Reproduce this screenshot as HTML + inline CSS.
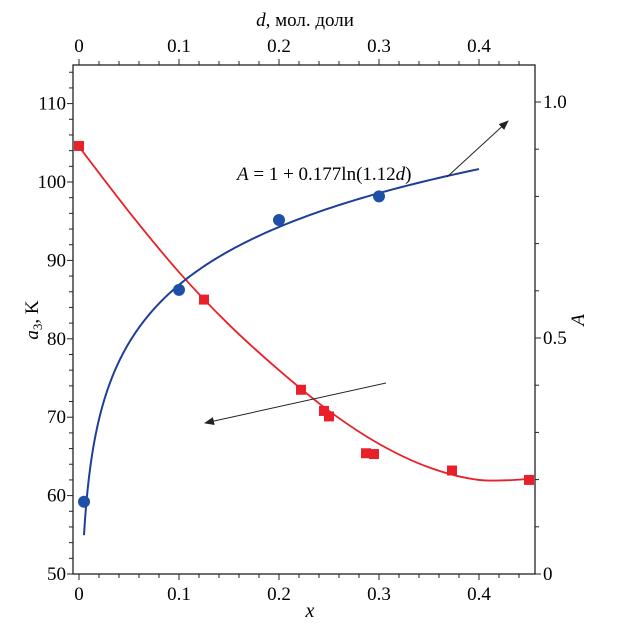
<!DOCTYPE html>
<html><head><meta charset="utf-8"><style>
body{margin:0;background:#fff}
svg{display:block;font-family:"Liberation Serif",serif}
</style></head><body>
<svg id="chart" width="629" height="640" viewBox="0 0 629 640" xmlns="http://www.w3.org/2000/svg">
<defs><marker id="ah" markerWidth="10" markerHeight="8" refX="9" refY="4" orient="auto" markerUnits="userSpaceOnUse"><path d="M0,0 L10,4 L0,8 Z" fill="#222"/></marker></defs>
<g id="axes"></g>
<g id="series"></g>
<text x="237" y="180" font-size="19"><tspan font-style="italic">A</tspan> = 1 + 0.177ln(1.12<tspan font-style="italic">d</tspan>)</text>
<line x1="447" y1="177" x2="508" y2="121" stroke="#222" stroke-width="1" marker-end="url(#ah)"/>
<line x1="386" y1="383" x2="205" y2="423" stroke="#222" stroke-width="1" marker-end="url(#ah)"/>
<text x="305" y="26" font-size="19" text-anchor="middle"><tspan font-style="italic">d</tspan>, мол. доли</text>
<text x="310" y="617" font-size="20" font-style="italic" text-anchor="middle">x</text>
<text transform="translate(38,320) rotate(-90)" font-size="19" text-anchor="middle"><tspan font-style="italic">a</tspan><tspan font-size="13" dy="4">3</tspan><tspan dy="-4">, K</tspan></text>
<text transform="translate(584,320) rotate(-90)" font-size="19" font-style="italic" text-anchor="middle">A</text>
</svg>
<script>
const xTicks=[0,0.1,0.2,0.3,0.4];
const xTickLabels=["0","0.1","0.2","0.3","0.4"];
const yTicks=[50,60,70,80,90,100,110];
const aTicks=[0,0.5,1.0];
const aTickLabels=["0","0.5","1.0"];
const blueX=[0.005,0.1,0.2,0.3];
const blueA=[0.153,0.602,0.75,0.80];
const fitCoefA=1, fitCoefB=0.177, fitCoefC=1.12;
const fitRange=[0.005,0.4];
const redX=[0,0.125,0.222,0.245,0.25,0.287,0.295,0.373,0.45];
const redA3=[104.6,85,73.5,70.8,70.1,65.4,65.3,63.2,62];
const redCurveX=[0,0.05,0.1,0.15,0.2,0.25,0.3,0.35,0.4,0.45];
const redCurveY=[104.5,96.2,88.5,81.8,76,70.8,66.6,63.6,62.0,62.1];

const L=73,R=535,T=65,B=574;
const sx=v=>79+v*1000;
const sy=v=>B-(v-50)*7.84;
const sa=v=>B-v*472;
const NS='http://www.w3.org/2000/svg';
const ax=document.getElementById('axes'), se=document.getElementById('series');
function mk(tag,attrs,parent){const e=document.createElementNS(NS,tag);for(const k in attrs)e.setAttribute(k,attrs[k]);parent.appendChild(e);return e;}
const frame=mk('rect',{x:L,y:T,width:R-L,height:B-T,fill:'none',stroke:'#222','stroke-width':1.3},ax);


for(let v=0;v<=0.45001;v+=0.02){const x=sx(v);const big=Math.abs(v*10-Math.round(v*10))<1e-6;const len=big?6:4;
 mk('line',{x1:x,y1:B,x2:x,y2:B+len,stroke:'#222'},ax);
 mk('line',{x1:x,y1:T,x2:x,y2:T-len,stroke:'#222'},ax);}
xTicks.forEach((v,i)=>{
 const t=mk('text',{x:sx(v),y:600,'font-size':19,'text-anchor':'middle'},ax);t.textContent=xTickLabels[i];
 
 
 const t2=mk('text',{x:sx(v),y:52,'font-size':19,'text-anchor':'middle'},ax);t2.textContent=xTickLabels[i];
 
 
});
for(let v=50;v<=114;v+=2){const y=sy(v);const big=v%10===0;mk('line',{x1:L,y1:y,x2:L-(big?6:4),y2:y,stroke:'#222'},ax);}
yTicks.forEach(v=>{const t=mk('text',{x:L-7,y:sy(v)+6,'font-size':19,'text-anchor':'end'},ax);t.textContent=v;
 
 });
for(let v=0;v<=1.0001;v+=0.1){const y=sa(v);const big=Math.abs(v*2-Math.round(v*2))<1e-6;mk('line',{x1:R,y1:y,x2:R+(big?6:4),y2:y,stroke:'#222'},ax);}
aTicks.forEach((v,i)=>{const t=mk('text',{x:R+8,y:sa(v)+6,'font-size':19},ax);t.textContent=aTickLabels[i];
 
 });
function smooth(pts){let d='M'+pts[0][0]+','+pts[0][1];for(let i=0;i<pts.length-1;i++){const p0=pts[i-1]||pts[i],p1=pts[i],p2=pts[i+1],p3=pts[i+2]||p2;
 d+=` C${p1[0]+(p2[0]-p0[0])/6},${p1[1]+(p2[1]-p0[1])/6} ${p2[0]-(p3[0]-p1[0])/6},${p2[1]-(p3[1]-p1[1])/6} ${p2[0]},${p2[1]}`;}return d;}
const rc=mk('path',{d:smooth(redCurveX.map((x,i)=>[sx(x),sy(redCurveY[i])])),fill:'none',stroke:'#e8202a','stroke-width':1.8},se);


let bd='';for(let i=0;i<=200;i++){const d=fitRange[0]*Math.pow(fitRange[1]/fitRange[0],i/200);const A=fitCoefA+fitCoefB*Math.log(fitCoefC*d);bd+=(i?'L':'M')+sx(d)+','+sa(A);}
const bc=mk('path',{d:bd,fill:'none',stroke:'#1f3f96','stroke-width':2},se);


redX.forEach((x,i)=>{const r=mk('rect',{x:sx(x)-5,y:sy(redA3[i])-5,width:10,height:10,fill:'#e8202a'},se);
 
 });
blueX.forEach((x,i)=>{const c=mk('circle',{cx:sx(x),cy:sa(blueA[i]),r:6,fill:'#1f4fa8'},se);
 
 });
</script>
</body></html>
